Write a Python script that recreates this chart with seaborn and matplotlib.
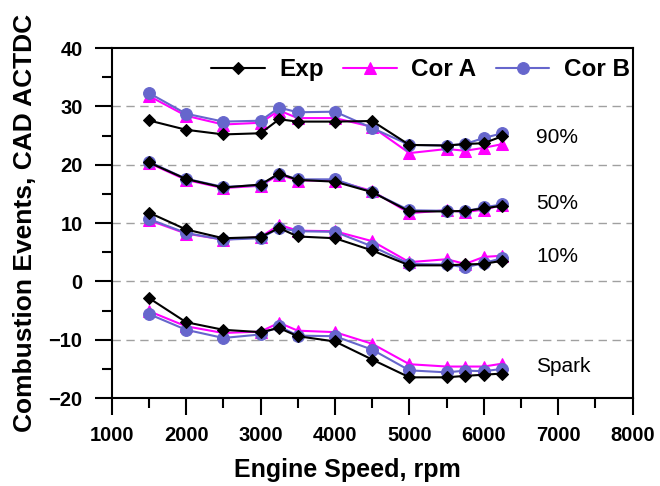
import matplotlib
matplotlib.use("Agg")
import matplotlib.pyplot as plt
from matplotlib.ticker import MultipleLocator
import seaborn as sns
import pandas as pd

sns.set_theme(style="ticks")
plt.rcParams["font.family"] = ["Liberation Sans", "DejaVu Sans"]
plt.rcParams["text.color"] = "black"
plt.rcParams["axes.labelcolor"] = "black"
plt.rcParams["xtick.color"] = "black"
plt.rcParams["ytick.color"] = "black"

# Engine speeds (rpm)
rpm = [1500, 2000, 2500, 3000, 3250, 3500, 4000, 4500, 5000, 5500, 5750, 6000, 6250]

# Combustion event timings, CAD ATDC
exp_spark = [-2.85, -7.0, -8.3, -8.7, -8.0, -9.4, -10.3, -13.4, -16.45, -16.45, -16.2, -16.0, -15.8]
exp_10 = [11.8, 8.9, 7.4, 7.6, 9.15, 7.7, 7.4, 5.3, 2.75, 2.75, 2.9, 3.0, 3.55]
exp_50 = [20.4, 17.55, 16.1, 16.6, 18.5, 17.4, 17.1, 15.3, 12.0, 12.0, 12.1, 12.5, 13.0]
exp_90 = [27.6, 26.0, 25.2, 25.4, 27.8, 27.4, 27.4, 27.5, 23.4, 23.3, 23.55, 23.7, 24.9]

cora_spark = [-5.1, -7.7, -8.85, -8.6, -7.1, -8.45, -8.7, -10.7, -14.2, -14.6, -14.6, -14.6, -14.1]
cora_10 = [10.5, 8.2, 7.15, 7.6, 9.7, 8.7, 8.6, 6.9, 3.3, 3.8, 3.0, 4.2, 4.4]
cora_50 = [20.3, 17.4, 16.0, 16.4, 18.3, 17.3, 17.3, 15.5, 11.7, 12.2, 11.9, 12.3, 13.1]
cora_90 = [31.8, 28.4, 26.9, 27.2, 29.3, 28.0, 28.0, 26.5, 22.0, 22.7, 22.4, 22.9, 23.55]

corb_spark = [-5.6, -8.3, -9.7, -9.1, -7.7, -9.3, -9.4, -11.7, -15.25, -15.6, -15.3, -15.4, -15.0]
corb_10 = [10.7, 8.3, 7.15, 7.4, 9.15, 8.6, 8.5, 6.0, 3.0, 2.9, 2.4, 3.15, 4.0]
corb_50 = [20.5, 17.6, 16.2, 16.5, 18.5, 17.5, 17.5, 15.3, 12.2, 12.1, 12.0, 12.7, 13.2]
corb_90 = [32.3, 28.75, 27.4, 27.55, 29.8, 29.0, 29.1, 26.3, 23.4, 23.3, 23.55, 24.6, 25.4]

events = ["Spark", "10%", "50%", "90%"]
models = ["Exp", "Cor A", "Cor B"]
series = {
    "Exp": [exp_spark, exp_10, exp_50, exp_90],
    "Cor A": [cora_spark, cora_10, cora_50, cora_90],
    "Cor B": [corb_spark, corb_10, corb_50, corb_90],
}

rows = []
for m in models:
    for ev, vals in zip(events, series[m]):
        for r, v in zip(rpm, vals):
            rows.append({"rpm": r, "value": v, "model": m, "event": ev})
df = pd.DataFrame(rows)

styles = {
    "Cor A": dict(color="#FF00FF", marker="^", markersize=8, lw=1.5, zorder=3),
    "Cor B": dict(color="#6666CC", marker="o", markersize=8.5, lw=1.5, zorder=4),
    "Exp": dict(color="black", marker="D", markersize=6.5, lw=1.5, zorder=5),
}

fig = plt.figure(figsize=(6.6, 4.86), dpi=100)
ax = fig.add_axes([0.1692, 0.181, 0.7894, 0.720])

handles = {}
for m in ["Cor A", "Cor B", "Exp"]:
    st = styles[m]
    for ev in events:
        sub = df[(df["model"] == m) & (df["event"] == ev)]
        sns.lineplot(data=sub, x="rpm", y="value", ax=ax, color=st["color"],
                     marker=st["marker"], markersize=st["markersize"],
                     markeredgecolor=st["color"], linewidth=st["lw"],
                     zorder=st["zorder"], estimator=None, legend=False)
    handles[m] = ax.lines[-1]

ax.set_xlim(1000, 8000)
ax.set_ylim(-20, 40)
ax.xaxis.set_major_locator(MultipleLocator(1000))
ax.xaxis.set_minor_locator(MultipleLocator(500))
ax.yaxis.set_major_locator(MultipleLocator(10))
ax.yaxis.set_minor_locator(MultipleLocator(5))

for y in [-10, 0, 10, 20, 30]:
    ax.axhline(y, color="#A0A0A0", lw=1.0, ls=(0, (6, 4)), zorder=1)

for sp in ax.spines.values():
    sp.set_linewidth(1.5)
    sp.set_color("black")

ax.tick_params(axis="both", which="major", direction="out", length=12, width=1.5,
               labelsize=14.5, color="black", labelcolor="black")
ax.tick_params(axis="x", which="major", pad=8)
ax.tick_params(axis="y", which="major", pad=9)
ax.tick_params(axis="both", which="minor", direction="out", length=7, width=1.5,
               color="black")
for lab in ax.get_xticklabels() + ax.get_yticklabels():
    lab.set_fontweight("bold")

ax.set_xlabel("Engine Speed, rpm", fontsize=18, fontweight="bold")
ax.xaxis.set_label_coords(0.453, -0.172)
ax.set_ylabel("Combustion Events, CAD ACTDC", fontsize=19, fontweight="bold", labelpad=8)

label_y = {"90%": 24.7, "50%": 13.4, "10%": 4.3, "Spark": -14.6}
for ev, yv in label_y.items():
    ax.text(6700, yv, ev, fontsize=15, va="center", ha="left")

leg = ax.legend([handles[m] for m in models], models, ncol=3, frameon=False,
                loc="upper right", bbox_to_anchor=(1.023, 1.012),
                prop={"weight": "bold", "size": 17.5}, handlelength=2.2,
                columnspacing=0.8, handletextpad=0.6, borderaxespad=0.2)

fig.savefig("out.png", dpi=100, facecolor="white")
